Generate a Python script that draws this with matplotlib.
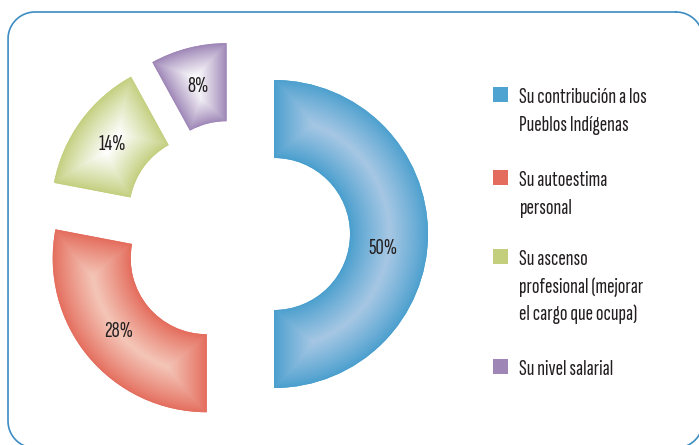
import numpy as np
import matplotlib
matplotlib.use('Agg')
import matplotlib.pyplot as plt
from matplotlib.patches import Rectangle
from matplotlib.lines import Line2D
from matplotlib.transforms import IdentityTransform

# ---------------- data ----------------
labels = ['Su contribución a los\nPueblos Indígenas',
          'Su autoestima\npersonal',
          'Su ascenso\nprofesional (mejorar\nel cargo que ocupa)',
          'Su nivel salarial']
values = [50, 28, 14, 8]
edge_colors = ['#4a9fce', '#e46c5c', '#c3cf7e', '#9d85b6']
light_colors = ['#a6c7e4', '#f4c6b8', '#ffffff', '#ffffff']
legend_colors = ['#4fa3d1', '#e46c5f', '#c3cf7d', '#9e86b7']

FONT = ['Sofia Sans Extra Condensed', 'Fira Sans Extra Condensed', 'DejaVu Sans']
plt.rcParams['font.family'] = FONT
TXT = '#231f20'

W, H = 699, 445
fig = plt.figure(figsize=(W / 100, H / 100), dpi=100)
ax = fig.add_axes([0, 0, 1, 1])
renderer = fig.canvas.get_renderer()


def fit_size(s, target_px, base=10):
    t = fig.text(0, 0, s, fontsize=base)
    w = t.get_window_extent(renderer).width
    t.remove()
    return base * target_px / w


legend_fs = fit_size('Su contribución a los', 127)
pct_fs = fit_size('50%', 29)

cx, cy = 236, H - 234
R = 154
ring = 78
expl = 38

wedges, texts, autotexts = ax.pie(
    values, center=(cx, cy), radius=R, explode=[expl] * len(values),
    startangle=90, counterclock=False, colors=edge_colors,
    autopct=lambda p: f'{p:.0f}%', pctdistance=0.745,
    wedgeprops=dict(width=ring, linewidth=0),
    textprops=dict(fontsize=pct_fs, color=TXT))

# shape-burst gradients clipped to each wedge
for w, ec, lc in zip(wedges, edge_colors, light_colors):
    wx, wy = w.center
    r_out = w.r
    r_in = w.r - w.width
    t1, t2 = w.theta1, w.theta2
    span = (t2 - t1) % 360 if (t2 - t1) % 360 != 0 else 360
    xs = np.arange(wx - r_out, wx + r_out + 1, 1.0)
    ys = np.arange(wy - r_out, wy + r_out + 1, 1.0)
    X, Y = np.meshgrid(xs, ys)
    dx, dy = X - wx, Y - wy
    rr = np.hypot(dx, dy)
    ang = np.degrees(np.arctan2(dy, dx))
    d1 = (ang - t1) % 360
    d2 = (t2 - ang) % 360
    inside = (d1 <= span) & (rr >= r_in) & (rr <= r_out)
    e1 = rr * np.sin(np.radians(np.minimum(d1, 90)))
    e2 = rr * np.sin(np.radians(np.minimum(d2, 90)))
    d = np.minimum.reduce([rr - r_in, r_out - rr, e1, e2])
    d = np.where(inside, d, 0)
    t = np.clip(d / d.max(), 0, 1) ** 0.9
    c0 = np.array(matplotlib.colors.to_rgb(ec))
    c1 = np.array(matplotlib.colors.to_rgb(lc))
    img = c0[None, None, :] + (c1 - c0)[None, None, :] * t[:, :, None]
    im = ax.imshow(img, extent=(xs[0] - 0.5, xs[-1] + 0.5, ys[0] - 0.5, ys[-1] + 0.5),
                   origin='lower', interpolation='bilinear', zorder=1.5)
    im.set_clip_path(w)

for at in autotexts:
    at.set_zorder(3)
# the blue label sits a little below the slice's mid-angle in the reference
bx, by = autotexts[0].get_position()
autotexts[0].set_position((bx - 6, by - 15))

ax.set_xlim(0, W)
ax.set_ylim(0, H)
ax.set_aspect('auto')
ax.axis('off')

# legend (manual)
lx, sq = 493, 15
tx = 519
first_baselines = [103, 186, 265, 375]
line_gap = 27.7
for lab, col, b in zip(labels, legend_colors, first_baselines):
    ax.add_patch(Rectangle((lx, H - b + 1), sq, sq, facecolor=col, edgecolor='none'))
    for i, line in enumerate(lab.split('\n')):
        ax.text(tx, H - b - i * line_gap, line, fontsize=legend_fs, color=TXT,
                va='baseline', ha='left')

# rounded frame as a sampled polyline in figure pixels
x0, x1, yb, yt, rc = 8, 703, -3, 433, 27


def arc(xc, yc, a0, a1, n=40):
    a = np.radians(np.linspace(a0, a1, n))
    return xc + rc * np.cos(a), yc + rc * np.sin(a)


parts = [arc(x1 - rc, yt - rc, 90, 0), arc(x1 - rc, yb + rc, 0, -90),
         arc(x0 + rc, yb + rc, -90, -180), arc(x0 + rc, yt - rc, 180, 90)]
fx = np.concatenate([p[0] for p in parts] + [parts[0][0][:1]])
fy = np.concatenate([p[1] for p in parts] + [parts[0][1][:1]])
fig.add_artist(Line2D(fx, fy, color='#3d8cc2', linewidth=1.2,
                      transform=IdentityTransform(), solid_joinstyle='round'))

fig.savefig('out.png', dpi=100)
